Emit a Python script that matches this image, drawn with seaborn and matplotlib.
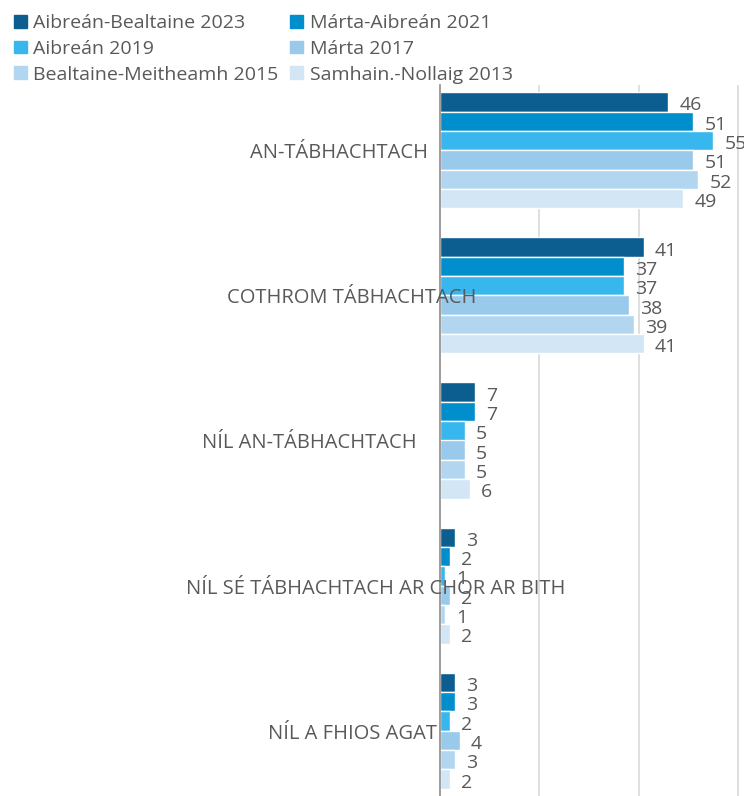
import numpy as np
import pandas as pd
import matplotlib.pyplot as plt
import matplotlib.transforms as mtransforms
import seaborn as sns

# %% data
categories = ['AN-TÁBHACHTACH', 'COTHROM TÁBHACHTACH', 'NÍL AN-TÁBHACHTACH',
              'NÍL SÉ TÁBHACHTACH AR CHOR AR BITH', 'NÍL A FHIOS AGAT']
periods = ['Aibreán-Bealtaine 2023', 'Márta-Aibreán 2021', 'Aibreán 2019',
           'Márta 2017', 'Bealtaine-Meitheamh 2015', 'Samhain.-Nollaig 2013']
v2023 = [46, 41, 7, 3, 3]
v2021 = [51, 37, 7, 2, 3]
v2019 = [55, 37, 5, 1, 2]
v2017 = [51, 38, 5, 2, 4]
v2015 = [52, 39, 5, 1, 3]
v2013 = [49, 41, 6, 2, 2]
colors = ['#0C5E91', '#008FCC', '#38B7EE', '#9ACAEB', '#B2D6F0', '#D3E6F6']

# %% plot
def main():
    series = [v2023, v2021, v2019, v2017, v2015, v2013]
    rows = []
    for p, vals in zip(periods, series):
        for c, v in zip(categories, vals):
            rows.append({'cat': c, 'period': p, 'value': v})
    df = pd.DataFrame(rows)

    sns.set_style('white')
    plt.rcParams['font.family'] = ['Open Sans', 'DejaVu Sans']
    txt = '#595959'

    fig = plt.figure(figsize=(7.44, 7.96), dpi=100)
    ax = fig.add_axes([440 / 744, 0, 1 - 440 / 744, 711 / 796])
    sns.barplot(data=df, y='cat', x='value', hue='period', palette=colors,
                orient='h', width=0.8, saturation=1, legend=False, ax=ax)
    for cont in ax.containers:
        anns = ax.bar_label(cont, padding=8, fontsize=14, color=txt)
        for a in anns:
            a.xyann = (8, -2.5)

    ax.set_xlim(0, 61.2)
    ax.set_ylim(4.45, -0.45)
    ax.set_xticks([20, 40, 60])
    ax.set_xticklabels([])
    ax.set_yticks([])
    ax.set_xlabel('')
    ax.set_ylabel('')
    ax.grid(axis='x', color='#D9D9D9', linewidth=1.2)
    ax.set_axisbelow(True)
    for s in ['top', 'right', 'bottom']:
        ax.spines[s].set_visible(False)
    ax.spines['left'].set_color('#8C8C8C')
    ax.spines['left'].set_linewidth(1.2)
    ax.tick_params(length=0)

    # category labels sit roughly centred, partly over the bars
    label_x = [339, 352, 309, 376, 352]
    tr = mtransforms.offset_copy(ax.get_yaxis_transform(), fig=fig, x=0, y=-3, units='dots')
    for i, (c, lx) in enumerate(zip(categories, label_x)):
        ax.text((lx - 440) / (744 - 440), i, c, transform=tr,
                ha='center', va='center', fontsize=14.5, color=txt, zorder=5)

    # legend filled row by row
    order = [0, 2, 4, 1, 3, 5]
    handles = [plt.Rectangle((0, 0), 1, 1, color=colors[k]) for k in order]
    labels = [periods[k] for k in order]
    fig.legend(handles, labels, loc='upper left', bbox_to_anchor=(0.003, 0.997),
               ncol=2, frameon=False, fontsize=14, labelcolor=txt,
               handlelength=0.65, handleheight=0.65, handletextpad=0.35,
               columnspacing=0.6, labelspacing=0.4, borderaxespad=0.2)

    plt.savefig('out.png', dpi=100)


if __name__ == '__main__':
    main()
